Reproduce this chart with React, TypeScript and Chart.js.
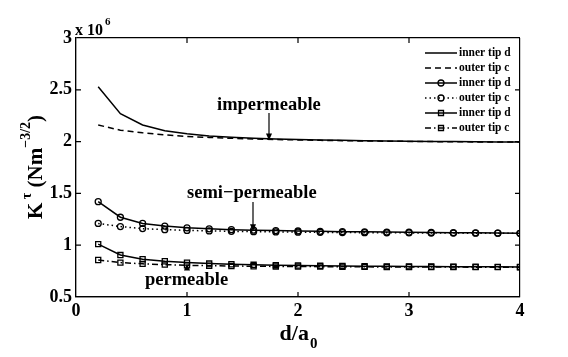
import React, { useEffect, useRef } from "react";
import { Chart, registerables } from "chart.js";

Chart.register(...registerables);

// d/a0 sample positions
const xValues = [0.2, 0.4, 0.6, 0.8, 1.0, 1.2, 1.4, 1.6, 1.8, 2.0, 2.2, 2.4, 2.6, 2.8, 3.0, 3.2, 3.4, 3.6, 3.8, 4.0];

// K^tau values in units of 10^6
const impInner = [2.53, 2.27, 2.16, 2.105, 2.075, 2.055, 2.042, 2.032, 2.025, 2.02, 2.016, 2.012, 2.009, 2.006, 2.004, 2.002, 2.0, 1.998, 1.997, 1.995];
const impOuter = [2.16, 2.11, 2.085, 2.065, 2.05, 2.04, 2.032, 2.025, 2.02, 2.016, 2.012, 2.009, 2.006, 2.004, 2.002, 2.0, 1.999, 1.997, 1.996, 1.995];
const semiInner = [1.42, 1.27, 1.21, 1.185, 1.168, 1.158, 1.15, 1.145, 1.141, 1.137, 1.134, 1.131, 1.129, 1.127, 1.125, 1.123, 1.121, 1.119, 1.117, 1.115];
const semiOuter = [1.21, 1.18, 1.16, 1.15, 1.143, 1.138, 1.134, 1.131, 1.128, 1.126, 1.124, 1.122, 1.121, 1.12, 1.119, 1.118, 1.117, 1.116, 1.116, 1.115];
const permInner = [1.01, 0.905, 0.865, 0.845, 0.832, 0.823, 0.816, 0.811, 0.807, 0.804, 0.801, 0.799, 0.797, 0.796, 0.795, 0.794, 0.793, 0.792, 0.791, 0.79];
const permOuter = [0.857, 0.832, 0.82, 0.812, 0.806, 0.802, 0.799, 0.797, 0.795, 0.794, 0.793, 0.792, 0.791, 0.79, 0.79, 0.789, 0.789, 0.788, 0.788, 0.787];

const legendLabels = ["inner tip d", "outer tip c", "inner tip d", "outer tip c", "inner tip d", "outer tip c"];
const xTickValues = [0, 1, 2, 3, 4];
const yTickValues = [0.5, 1, 1.5, 2, 2.5, 3];

const SERIF = "'Liberation Serif', 'Times New Roman', serif";

type Style = { dash: number[]; point: string | false };
const styles: Style[] = [
  { dash: [], point: false },
  { dash: [6, 4], point: false },
  { dash: [], point: "circle" },
  { dash: [1.5, 3], point: "circle" },
  { dash: [], point: "rect" },
  { dash: [6, 3, 1.5, 3], point: "rect" },
];

const seriesList = [impInner, impOuter, semiInner, semiOuter, permInner, permOuter];

function drawArrow(ctx: CanvasRenderingContext2D, x: number, y1: number, y2: number) {
  ctx.save();
  ctx.strokeStyle = "#000";
  ctx.fillStyle = "#000";
  ctx.lineWidth = 1.2;
  ctx.setLineDash([]);
  const dir = y2 > y1 ? 1 : -1;
  ctx.beginPath();
  ctx.moveTo(x, y1);
  ctx.lineTo(x, y2 - dir * 4);
  ctx.stroke();
  ctx.beginPath();
  ctx.moveTo(x, y2);
  ctx.lineTo(x - 3, y2 - dir * 7);
  ctx.lineTo(x + 3, y2 - dir * 7);
  ctx.closePath();
  ctx.fill();
  ctx.restore();
}

function drawMarker(ctx: CanvasRenderingContext2D, style: string, x: number, y: number) {
  ctx.beginPath();
  if (style === "circle") {
    ctx.arc(x, y, 3, 0, Math.PI * 2);
  } else {
    ctx.rect(x - 2.5, y - 2.5, 5, 5);
  }
  ctx.stroke();
}

// grid colour: only the outer lines (frame) are drawn
const edgeColor = (lo: number, hi: number) => (c: any) => {
  const v = c.tick ? c.tick.value : NaN;
  return v === lo || v === hi ? "rgba(0,0,0,1)" : "rgba(0,0,0,0)";
};

const decorations = {
  id: "decorations",
  afterDraw(chart: any) {
    const ctx: CanvasRenderingContext2D = chart.ctx;
    const ca = chart.chartArea;
    const xs = chart.scales.x;
    const ys = chart.scales.y;
    ctx.save();

    // inward tick marks
    ctx.strokeStyle = "rgba(0,0,0,1)";
    ctx.lineWidth = 1.2;
    ctx.setLineDash([]);
    const tl = 5;
    ctx.beginPath();
    xTickValues.slice(1, -1).forEach((v) => {
      const px = xs.getPixelForValue(v);
      ctx.moveTo(px, ca.bottom);
      ctx.lineTo(px, ca.bottom - tl);
      ctx.moveTo(px, ca.top);
      ctx.lineTo(px, ca.top + tl);
    });
    yTickValues.slice(1, -1).forEach((v) => {
      const py = ys.getPixelForValue(v);
      ctx.moveTo(ca.left, py);
      ctx.lineTo(ca.left + tl, py);
      ctx.moveTo(ca.right, py);
      ctx.lineTo(ca.right - tl, py);
    });
    ctx.stroke();

    ctx.fillStyle = "#000";
    ctx.textBaseline = "alphabetic";
    ctx.textAlign = "left";

    // x 10^6
    ctx.font = `bold 16px ${SERIF}`;
    ctx.fillText("x 10", 75, 35);
    const w10 = ctx.measureText("x 10").width;
    ctx.font = `bold 11px ${SERIF}`;
    ctx.fillText("6", 75 + w10 + 2, 25);

    // x title d/a0
    ctx.font = `bold 22px ${SERIF}`;
    const xt = "d/a";
    const wxt = ctx.measureText(xt).width;
    ctx.font = `bold 15px ${SERIF}`;
    const wsub = ctx.measureText("0").width;
    const cx = (ca.left + ca.right) / 2;
    const sx = cx - (wxt + wsub) / 2;
    ctx.font = `bold 22px ${SERIF}`;
    ctx.fillText(xt, sx, 340);
    ctx.font = `bold 15px ${SERIF}`;
    ctx.fillText("0", sx + wxt + 1, 348);

    // y title K^tau (Nm^-3/2)
    ctx.save();
    ctx.translate(42, 167);
    ctx.rotate(-Math.PI / 2);
    const segs: [string, number, number][] = [
      ["K", 21, 0],
      [" \u03c4", 14, -11],
      [" (Nm", 21, 0],
      ["\u22123/2", 14, -12],
      [")", 21, 0],
    ];
    let total = 0;
    segs.forEach(([t, s]) => {
      ctx.font = `bold ${s}px ${SERIF}`;
      total += ctx.measureText(t).width;
    });
    let px = -total / 2;
    segs.forEach(([t, s, dy]) => {
      ctx.font = `bold ${s}px ${SERIF}`;
      ctx.fillText(t, px, dy);
      px += ctx.measureText(t).width;
    });
    ctx.restore();

    // annotations
    ctx.font = `bold 18.5px ${SERIF}`;
    ctx.fillText("impermeable", 217, 110);
    ctx.fillText("semi\u2212permeable", 187, 198);
    ctx.fillText("permeable", 145, 285);
    drawArrow(ctx, 269, 113, ys.getPixelForValue(2.01));
    drawArrow(ctx, 253, 202, ys.getPixelForValue(1.135));
    drawArrow(ctx, 187, 267, ys.getPixelForValue(0.805) - 2);

    // legend
    ctx.strokeStyle = "#000";
    ctx.font = `bold 11.5px ${SERIF}`;
    ctx.textBaseline = "middle";
    legendLabels.forEach((lab, i) => {
      const y = 53 + i * 15;
      const st = styles[i];
      ctx.lineWidth = 1.5;
      ctx.setLineDash(st.dash);
      ctx.beginPath();
      ctx.moveTo(425, y);
      ctx.lineTo(457, y);
      ctx.stroke();
      ctx.setLineDash([]);
      if (st.point) {
        ctx.lineWidth = 1.3;
        drawMarker(ctx, st.point as string, 441, y);
      }
      ctx.fillText(lab, 459, y + 0.5);
    });
    ctx.restore();
  },
};

export default function App() {
  const canvasRef = useRef<HTMLCanvasElement | null>(null);

  useEffect(() => {
    document.body.style.margin = "0";
    const canvas = canvasRef.current;
    if (!canvas) return;
    const datasets = seriesList.map((vals, i) => {
      const st = styles[i];
      return {
        label: legendLabels[i],
        data: xValues.map((x, j) => ({ x, y: vals[j] })),
        borderColor: "#000",
        backgroundColor: "#000",
        borderWidth: 1.5,
        borderDash: st.dash,
        pointStyle: st.point || "circle",
        pointRadius: st.point ? (st.point === "rect" ? 3.6 : 3) : 0,
        pointBorderWidth: 1.3,
        pointBorderColor: "#000",
        pointBackgroundColor: "rgba(0,0,0,0)",
        tension: 0,
        fill: false,
      };
    });
    const chart = new Chart(canvas, {
      type: "line",
      data: { datasets },
      options: {
        responsive: false,
        animation: false,
        devicePixelRatio: 1,
        layout: { padding: { left: 0, right: 48, top: 38, bottom: 0 } },
        plugins: { legend: { display: false }, tooltip: { enabled: false } },
        scales: {
          x: {
            type: "linear",
            min: 0,
            max: 4,
            grid: {
              display: true,
              drawOnChartArea: true,
              drawTicks: false,
              lineWidth: 1.2,
              color: edgeColor(0, 4),
            },
            border: { display: true, color: "rgba(0,0,0,1)", width: 1.2 },
            afterFit: (s: any) => {
              s.height = 60;
            },
            afterBuildTicks: (s: any) => {
              s.ticks = xTickValues.map((v) => ({ value: v }));
            },
            ticks: {
              padding: 4,
              color: "#000",
              font: { family: SERIF, size: 18, weight: "bold" },
              callback: (v: any) => String(v),
              maxRotation: 0,
            },
          },
          y: {
            type: "linear",
            min: 0.5,
            max: 3,
            grid: {
              display: true,
              drawOnChartArea: true,
              drawTicks: false,
              lineWidth: 1.2,
              color: edgeColor(0.5, 3),
            },
            border: { display: true, color: "rgba(0,0,0,1)", width: 1.2 },
            afterFit: (s: any) => {
              s.width = 76;
            },
            afterBuildTicks: (s: any) => {
              s.ticks = yTickValues.map((v) => ({ value: v }));
            },
            ticks: {
              padding: 4,
              color: "#000",
              font: { family: SERIF, size: 18, weight: "bold" },
              callback: (v: any) => String(v),
            },
          },
        },
      },
      plugins: [decorations],
    } as any);
    return () => chart.destroy();
  }, []);

  return (
    <div style={{ width: 568, height: 357, background: "#fff" }}>
      <canvas ref={canvasRef} width={568} height={357} style={{ display: "block" }} />
    </div>
  );
}
